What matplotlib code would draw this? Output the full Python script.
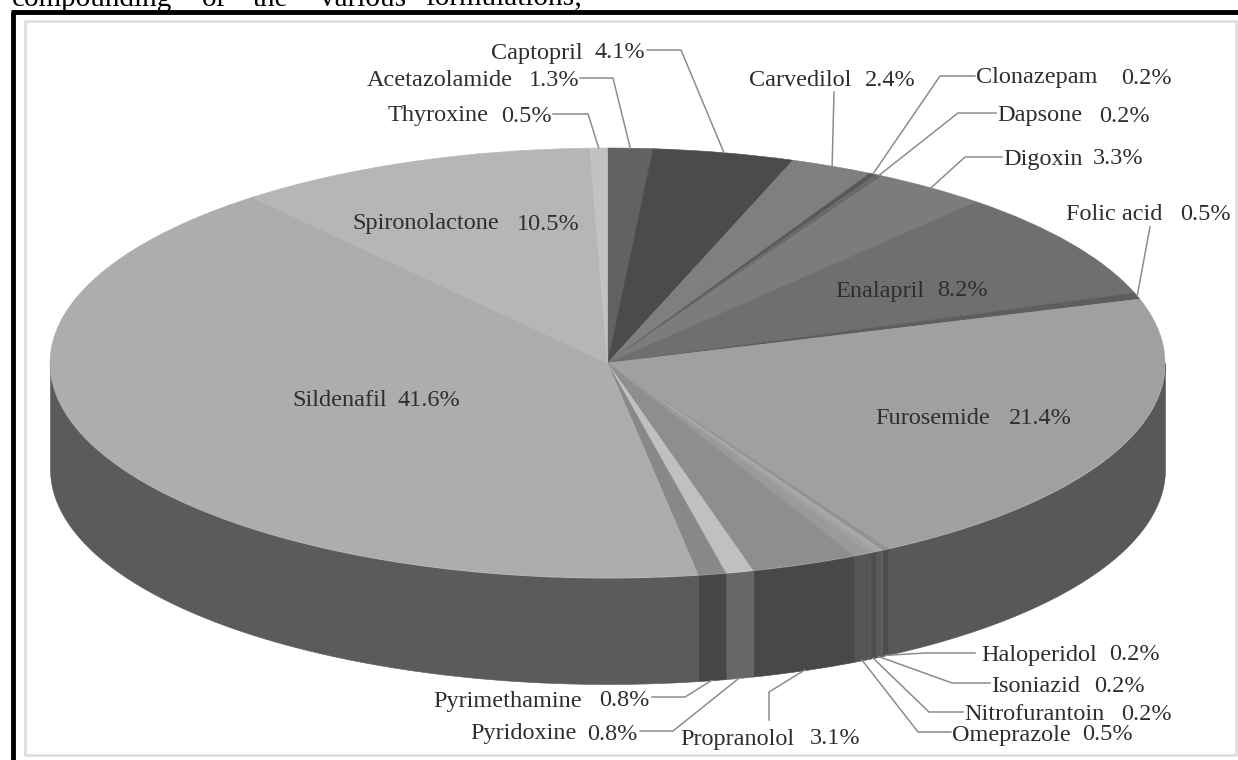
import numpy as np
import matplotlib
matplotlib.use('Agg')
import matplotlib.pyplot as plt
from matplotlib.patches import Rectangle

plt.rcParams['font.family'] = ['Liberation Serif', 'DejaVu Serif']

# Slices, clockwise from 12 o'clock
drugs = ['Acetazolamide', 'Captopril', 'Carvedilol', 'Clonazepam', 'Dapsone', 'Digoxin',
         'Enalapril', 'Folic acid', 'Furosemide', 'Haloperidol', 'Isoniazid', 'Nitrofurantoin',
         'Omeprazole', 'Propranolol', 'Pyridoxine', 'Pyrimethamine', 'Sildenafil',
         'Spironolactone', 'Thyroxine']
shares = [1.3, 4.1, 2.4, 0.2, 0.2, 3.3, 8.2, 0.5, 21.4, 0.2, 0.2, 0.2, 0.5, 3.1, 0.8, 0.8,
          41.6, 10.5, 0.5]
top_colors = ['#626262', '#4b4b4b', '#7f7f7f', '#585858', '#6a6a6a', '#7c7c7c', '#6f6f6f',
              '#5e5e5e', '#a0a0a0', '#929292', '#a8a8a8', '#a0a0a0', '#9a9a9a', '#8e8e8e',
              '#c0c0c0', '#888888', '#adadad', '#b6b6b6', '#c2c2c2']
side_colors = ['#3a3a3a', '#2c2c2c', '#4b4b4b', '#333333', '#3e3e3e', '#494949', '#414141',
               '#383838', '#585858', '#4c4c4c', '#5a5a5a', '#4e4e4e', '#555555', '#484848',
               '#676767', '#474747', '#5b5b5b', '#6b6b6b', '#727272']

# Pie geometry in pixels of the 1238x760 image
W, H = 1238, 760
CX, CY, RX, RY, DEPTH = 607.5, 363, 557.5, 215, 106

fig = plt.figure(figsize=(W / 100, H / 100), dpi=100, facecolor='white')

# Axes spanning the ellipse box, so a plain pie gets squashed to the right shape
pie_ax = fig.add_axes([(CX - RX) / W, 1 - (CY + RY) / H, 2 * RX / W, 2 * RY / H], zorder=2)
wedges, _ = pie_ax.pie(shares, colors=top_colors, startangle=90, counterclock=False, radius=1,
                       wedgeprops={'linewidth': 0.4})
for w, c in zip(wedges, top_colors):
    w.set_edgecolor(c)
pie_ax.set_aspect('auto')
pie_ax.set_xlim(-1, 1)
pie_ax.set_ylim(-1, 1)
pie_ax.axis('off')

# Side wall, only the front half shows
edges = np.concatenate([[0], np.cumsum(shares)]) * 3.6
depth_units = DEPTH / RY
for i in range(len(shares)):
    a0 = max(90 - edges[i + 1], -180)
    a1 = min(90 - edges[i], 0)
    if a1 <= a0:
        continue
    t = np.radians(np.linspace(a0, a1, 60))
    pie_ax.fill_between(np.cos(t), np.sin(t), np.sin(t) - depth_units, color=side_colors[i],
                        linewidth=0.4, clip_on=False, zorder=0)

# Overlay in pixel coordinates for frame, labels and leaders
ax = fig.add_axes([0, 0, 1, 1], zorder=3)
ax.set_xlim(0, W)
ax.set_ylim(H, 0)
ax.axis('off')

back = fig.add_axes([0, 0, 1, 1], zorder=1)
back.set_xlim(0, W)
back.set_ylim(H, 0)
back.axis('off')
back.add_patch(Rectangle((24.5, 21), 1211, 734, fc='white', ec='#dcdcdc', lw=1.8))
back.plot([13, 13], [H, 12], color='black', lw=3.5, solid_capstyle='butt')
back.plot([11, W], [12, 12], color='black', lw=3.5, solid_capstyle='butt')

# Clipped running text of the page above the chart
page_words = ['compounding', 'of', 'the', 'various', 'formulations;']
page_x = [12, 202, 253, 320, 425]
for word, x in zip(page_words, page_x):
    ax.text(x, 6, word, fontsize=21, color='black', va='baseline', ha='left', clip_on=False)


def rim_point(idx):
    # Outer edge of a slice at its middle, dropped to the wall bottom for front slices
    deg = np.radians((edges[idx] + edges[idx + 1]) / 2)
    x = CX + RX * np.sin(deg)
    y = CY - RY * np.cos(deg)
    if np.cos(deg) < 0:
        y += DEPTH
    return x, y


# name: left edge of label, right edge of label, y of label, leader start and elbow points
outside = {
    'Thyroxine': (388, 552, 116, [(553, 114), (588, 114)]),
    'Acetazolamide': (367, 579, 81, [(580, 78), (613, 78)]),
    'Captopril': (491, 645, 53, [(647, 50), (681, 50)]),
    'Carvedilol': (749, 916, 81, [(834, 92)]),
    'Clonazepam': (976, 1172, 78, [(975, 76), (940, 76)]),
    'Dapsone': (997, 1150, 116, [(996, 113), (958, 113)]),
    'Digoxin': (1003, 1143, 159, [(1002, 157), (965, 157)]),
    'Folic acid': (1066, 1231, 215, [(1150, 227)]),
    'Haloperidol': (981, 1160, 655, [(975, 653), (925, 653)]),
    'Isoniazid': (991, 1145, 686, [(990, 683), (952, 683)]),
    'Nitrofurantoin': (964, 1172, 714, [(963, 712), (929, 712)]),
    'Omeprazole': (952, 1133, 735, [(951, 732), (918, 732)]),
    'Propranolol': (680, 860, 739, [(769, 720), (769, 692)]),
    'Pyridoxine': (470, 638, 734, [(640, 731), (673, 731)]),
    'Pyrimethamine': (433, 650, 701, [(652, 697), (685, 697)]),
}
inside = {
    'Spironolactone': (352, 580, 224),
    'Enalapril': (835, 988, 291),
    'Furosemide': (875, 1072, 419),
    'Sildenafil': (292, 460, 401),
}

text_style = dict(fontsize=17.5, color='#2e2e2e', va='center')


def put_label(name, left, right, y):
    # Name and share sit apart, the source image is stretched wider than the font
    i = drugs.index(name)
    ax.text(left, y, name, ha='left', **text_style)
    ax.text(right, y, f'{shares[i]}%', ha='right', **text_style)
    return i


for name, (left, right, y, bends) in outside.items():
    i = put_label(name, left, right, y)
    px = [p[0] for p in bends]
    py = [p[1] for p in bends]
    end = rim_point(i)
    ax.plot(px + [end[0]], py + [end[1]], color='#8c8c8c', lw=1.1)

for name, (left, right, y) in inside.items():
    put_label(name, left, right, y)

fig.savefig('out.png', dpi=100)
